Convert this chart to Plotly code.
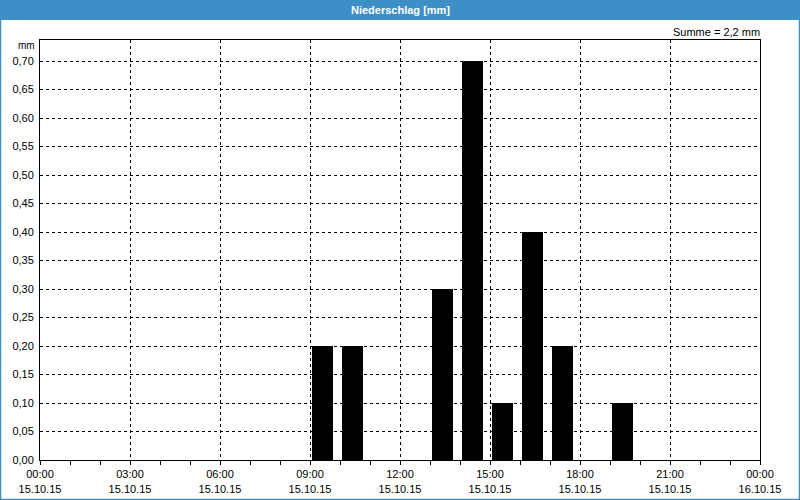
import plotly.graph_objects as go

# Hourly precipitation (start of hour) on 15.10.15
hours = ["2015-10-15 09:00", "2015-10-15 10:00", "2015-10-15 13:00", "2015-10-15 14:00",
         "2015-10-15 15:00", "2015-10-15 16:00", "2015-10-15 17:00", "2015-10-15 19:00"]
values = [0.2, 0.2, 0.3, 0.7, 0.1, 0.4, 0.2, 0.1]
title = "Niederschlag [mm]"
unit = "mm"
sum_label = "Summe = 2,2 mm"

HOUR_MS = 3600000
FONT = "Liberation Sans"
DASH = "3px,3px"

fig = go.Figure()
fig.add_trace(go.Bar(
    x=hours, y=values,
    width=[0.7 * HOUR_MS] * len(values),
    offset=0.075 * HOUR_MS,
    marker=dict(color="black", line=dict(width=0)),
))

fig.update_layout(
    width=800, height=500,
    margin=dict(l=40, r=40, t=40, b=40),
    paper_bgcolor="white", plot_bgcolor="white",
    separators=",.",
    showlegend=False,
    font=dict(family=FONT, size=11, color="black"),
    bargap=0,
)

fig.update_xaxes(
    type="date",
    automargin=False,
    range=["2015-10-15 00:00", "2015-10-16 00:00"],
    dtick=3 * HOUR_MS, tick0="2015-10-15 00:00",
    tickformat="%H:%M<br>%d.%m.%y",
    ticks="outside", ticklen=4, tickcolor="black",
    minor=dict(dtick=HOUR_MS, ticks="outside", ticklen=4, tickcolor="black", showgrid=False),
    showgrid=True, gridcolor="black", griddash=DASH, gridwidth=1,
    showline=True, linecolor="black", linewidth=1, mirror=True,
    tickfont=dict(family=FONT, size=11),
    zeroline=False,
)
fig.update_yaxes(
    automargin=False,
    range=[0, 0.7 * 420 / 399], tickformat=".2f",
    tickvals=[round(i * 0.05, 2) for i in range(15)],
    showgrid=True, gridcolor="black", griddash=DASH, gridwidth=1,
    showline=True, linecolor="black", linewidth=1, mirror=True,
    ticks="", ticklabelstandoff=3,
    tickfont=dict(family=FONT, size=11),
    zeroline=False,
)

# paper-coordinate helpers (plot area 720x420)
def px_x(p):
    return (p - 40) / 720.0

def px_y(p):
    return (460 - p) / 420.0

# title bar
fig.add_shape(type="rect", xref="paper", yref="paper",
              x0=px_x(0), x1=px_x(800), y0=px_y(20), y1=px_y(0),
              fillcolor="#3d8fc6", line=dict(width=0), layer="above")
# outer blue frame
fig.add_shape(type="rect", xref="paper", yref="paper",
              x0=px_x(0.5), x1=px_x(799.5), y0=px_y(499.5), y1=px_y(0.5),
              fillcolor="rgba(0,0,0,0)", line=dict(color="#3d8fc6", width=1.5), layer="above")

fig.add_annotation(text="<b>" + title + "</b>", xref="paper", yref="paper",
                   x=px_x(400), y=px_y(10), showarrow=False,
                   font=dict(family=FONT, size=11, color="white"),
                   xanchor="center", yanchor="middle")
fig.add_annotation(text=unit, xref="paper", yref="paper",
                   x=px_x(37), y=px_y(46), showarrow=False,
                   font=dict(family=FONT, size=10, color="black"),
                   xanchor="right", yanchor="middle")
fig.add_annotation(text=sum_label, xref="paper", yref="paper",
                   x=px_x(762), y=px_y(32), showarrow=False,
                   font=dict(family=FONT, size=11, color="black"),
                   xanchor="right", yanchor="middle")

fig.write_html("out.html")
